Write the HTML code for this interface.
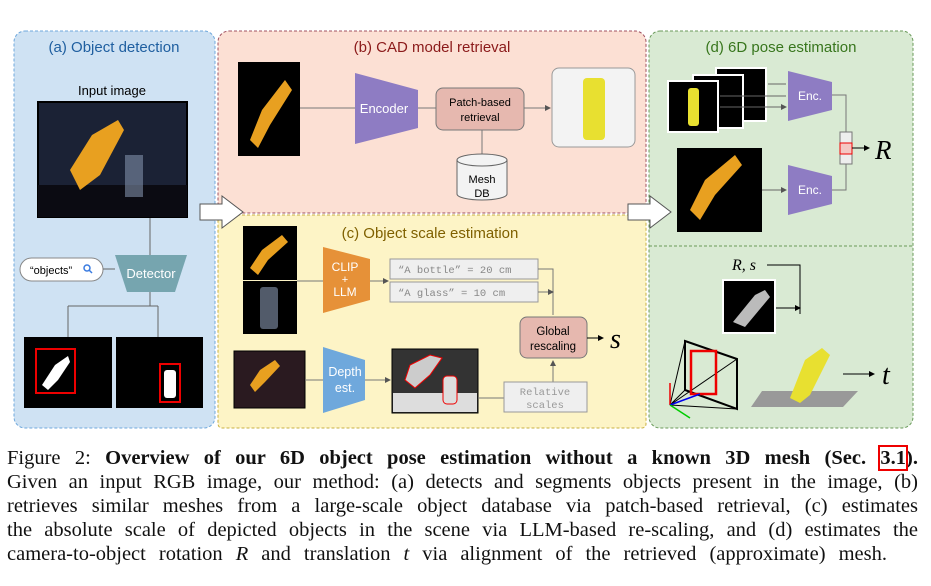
<!DOCTYPE html>
<html><head><meta charset="utf-8"><style>
body{margin:0;width:931px;height:586px;background:#fff;overflow:hidden;position:relative;font-family:"Liberation Sans",sans-serif}
svg{position:absolute;left:0;top:0}
.cap{position:absolute;left:7px;width:911px;font-family:"Liberation Serif",serif;font-size:20.5px;line-height:24px;text-align:justify;text-align-last:justify;white-space:nowrap;color:#111}
.cap i{font-style:italic}
</style></head><body>
<svg width="931" height="440" viewBox="0 0 931 440" font-family="Liberation Sans, sans-serif">
<defs><marker id="ah" markerWidth="6" markerHeight="6" refX="5" refY="3" orient="auto"><path d="M0,0 L6,3 L0,6z" fill="#555"/></marker>
<marker id="ak" markerWidth="6" markerHeight="6" refX="5" refY="3" orient="auto"><path d="M0,0 L6,3 L0,6z" fill="#000"/></marker></defs>
<rect x="14" y="31" width="201" height="397" rx="11" fill="#cfe2f3" stroke="#6fa8dc" stroke-dasharray="3,2"/>
<rect x="218" y="31" width="428" height="182" rx="11" fill="#fce0d4" stroke="#a05060" stroke-dasharray="3,2"/>
<rect x="218" y="215" width="428" height="213" rx="4" fill="#fdf4c6" stroke="#c9b040" stroke-dasharray="3,2"/>
<rect x="649" y="31" width="264" height="397" rx="11" fill="#d9ead3" stroke="#6a9a5a" stroke-dasharray="3,2"/>
<line x1="649" y1="246" x2="913" y2="246" stroke="#6a9a5a" stroke-dasharray="3,2"/>
<text x="114" y="52" text-anchor="middle" font-size="15" fill="#1f5fa0">(a) Object detection</text>
<text x="432" y="52" text-anchor="middle" font-size="15" fill="#8b1a1a">(b) CAD model retrieval</text>
<text x="430" y="238" text-anchor="middle" font-size="15" fill="#7f6000">(c) Object scale estimation</text>
<text x="781" y="52" text-anchor="middle" font-size="15" fill="#38761d">(d) 6D pose estimation</text>
<text x="112" y="95" text-anchor="middle" font-size="13" fill="#000">Input image</text>
<rect x="38" y="102" width="149" height="115" fill="#1b2235" stroke="#000" stroke-width="2"/>
<rect x="38" y="185" width="149" height="32" fill="#0b0b12"/>
<path d="M70,170 L92,135 L118,120 L124,130 L100,175 L80,190z" fill="#e8a020"/>
<rect x="125" y="155" width="18" height="42" fill="#8090a8" opacity=".6"/>
<line x1="150" y1="218" x2="150" y2="255" stroke="#666"/>
<path d="M115,255 L187,255 L175,292 L127,292z" fill="#76a5af"/>
<text x="151" y="278" text-anchor="middle" font-size="13" fill="#fff">Detector</text>
<rect x="20" y="258" width="83" height="23" rx="11.5" fill="#fff" stroke="#888"/>
<text x="30" y="274" font-size="11" fill="#000">“objects”</text>
<circle cx="87" cy="268" r="3" fill="none" stroke="#3a7be0" stroke-width="1.5"/><line x1="89" y1="270" x2="92" y2="273" stroke="#3a7be0" stroke-width="1.5"/>
<line x1="103" y1="269" x2="115" y2="269" stroke="#666"/>
<path d="M150,292 V306 M68,306 H158 M68,306 V337 M158,306 V337" stroke="#666" fill="none"/>
<rect x="24" y="337" width="88" height="71" fill="#000"/>
<rect x="116" y="337" width="87" height="71" fill="#000"/>
<rect x="36" y="349" width="39" height="44" fill="none" stroke="#e00" stroke-width="2"/>
<path d="M42,385 L55,365 L68,356 L70,362 L58,380 L48,390z" fill="#fff"/>
<rect x="160" y="364" width="20" height="38" fill="none" stroke="#e00" stroke-width="2"/>
<rect x="164" y="370" width="12" height="28" rx="3" fill="#fff"/>
<path d="M200,204 H222 V196 L243,212 L222,228 V220 H200z" fill="#fff" stroke="#555"/>
<path d="M628,204 H650 V196 L671,212 L650,228 V220 H628z" fill="#fff" stroke="#555"/>
<rect x="238" y="62" width="62" height="94" fill="#000"/>
<path d="M250,140 L262,110 L285,80 L292,90 L270,125 L258,148z" fill="#e8a020"/>
<line x1="300" y1="108" x2="355" y2="108" stroke="#777"/>
<path d="M355,73 L418,90 L418,128 L355,144z" fill="#8e7cc3"/>
<text x="384" y="113" text-anchor="middle" font-size="13" fill="#fff">Encoder</text>
<line x1="418" y1="108" x2="436" y2="108" stroke="#777"/>
<rect x="436" y="88" width="88" height="42" rx="7" fill="#e6b8af" stroke="#777"/>
<text x="480" y="106" text-anchor="middle" font-size="11" fill="#000">Patch-based</text>
<text x="480" y="121" text-anchor="middle" font-size="11" fill="#000">retrieval</text>
<line x1="524" y1="108" x2="550" y2="108" stroke="#777" marker-end="url(#ah)"/>
<rect x="552" y="68" width="83" height="79" rx="7" fill="#f3f3f3" stroke="#999"/>
<rect x="583" y="78" width="22" height="62" rx="4" fill="#e8e030"/>
<line x1="482" y1="130" x2="482" y2="158" stroke="#777"/>
<path d="M457,160 V194 A25,6 0 0 0 507,194 V160" fill="#f3f3f3" stroke="#666"/>
<ellipse cx="482" cy="160" rx="25" ry="6" fill="#f3f3f3" stroke="#666"/>
<text x="482" y="183" text-anchor="middle" font-size="11" fill="#000">Mesh</text>
<text x="482" y="197" text-anchor="middle" font-size="11" fill="#000">DB</text>
<rect x="243" y="226" width="54" height="54" fill="#000"/>
<path d="M250,268 L262,250 L282,235 L288,242 L268,260 L258,275z" fill="#e8a020"/>
<rect x="243" y="281" width="54" height="53" fill="#000"/>
<rect x="260" y="287" width="18" height="42" rx="3" fill="#8898b0" opacity=".6"/>
<line x1="297" y1="281" x2="323" y2="281" stroke="#777"/>
<path d="M323,247 L370,259 L370,300 L323,313z" fill="#e69138"/>
<text x="345" y="271" text-anchor="middle" font-size="12" fill="#fff">CLIP</text>
<text x="345" y="283" text-anchor="middle" font-size="11" fill="#fff">+</text>
<text x="345" y="296" text-anchor="middle" font-size="12" fill="#fff">LLM</text>
<line x1="370" y1="281" x2="388" y2="281" stroke="#777" marker-end="url(#ah)"/>
<rect x="390" y="259" width="148" height="20" fill="#efefef" stroke="#999"/>
<rect x="390" y="282" width="148" height="20" fill="#efefef" stroke="#999"/>
<text x="398" y="273" font-family="Liberation Mono, monospace" font-size="10.5" fill="#888">“A bottle” = 20 cm</text>
<text x="398" y="296" font-family="Liberation Mono, monospace" font-size="10.5" fill="#888">“A glass”  = 10 cm</text>
<path d="M538,269 H553 V315 M538,292 H553" stroke="#777" fill="none" marker-end="url(#ah)"/>
<rect x="520" y="317" width="67" height="41" rx="7" fill="#e6b8af" stroke="#777"/>
<text x="553" y="335" text-anchor="middle" font-size="11.5" fill="#000">Global</text>
<text x="553" y="350" text-anchor="middle" font-size="11.5" fill="#000">rescaling</text>
<line x1="587" y1="338" x2="603" y2="338" stroke="#000" marker-end="url(#ak)"/>
<text x="610" y="348" font-family="Liberation Serif, serif" font-style="italic" font-size="28" fill="#000">s</text>
<rect x="234" y="351" width="71" height="57" fill="#2a1a20" stroke="#000"/>
<path d="M250,385 L260,370 L275,360 L280,366 L265,382 L255,392z" fill="#e8a020"/>
<line x1="305" y1="380" x2="323" y2="380" stroke="#777"/>
<path d="M323,347 L365,360 L365,400 L323,413z" fill="#6fa8dc"/>
<text x="345" y="376" text-anchor="middle" font-size="12.5" fill="#fff">Depth</text>
<text x="345" y="392" text-anchor="middle" font-size="12.5" fill="#fff">est.</text>
<line x1="365" y1="380" x2="390" y2="380" stroke="#777" marker-end="url(#ah)"/>
<rect x="392" y="349" width="86" height="64" fill="#333" stroke="#000"/>
<rect x="393" y="393" width="84" height="19" fill="#ddd"/>
<path d="M405,380 L410,365 L430,355 L442,358 L430,375 L415,388z" fill="#ccc" stroke="#e00"/>
<rect x="443" y="376" width="14" height="28" rx="4" fill="#ddd" stroke="#e00"/>
<path d="M478,398 H504 M553,382 V361" stroke="#777" fill="none" marker-end="url(#ah)"/>
<rect x="504" y="382" width="83" height="30" fill="#efefef" stroke="#999"/>
<text x="545" y="395" text-anchor="middle" font-family="Liberation Mono, monospace" font-size="10.5" fill="#999">Relative</text>
<text x="545" y="408" text-anchor="middle" font-family="Liberation Mono, monospace" font-size="10.5" fill="#999">scales</text>
<rect x="716" y="68" width="50" height="53" fill="#000" stroke="#fff" stroke-width="2"/>
<rect x="693" y="75" width="50" height="53" fill="#000" stroke="#fff" stroke-width="2"/>
<rect x="668" y="81" width="50" height="51" fill="#000" stroke="#fff" stroke-width="2"/>
<rect x="688" y="88" width="11" height="38" rx="3" fill="#e8e030"/>
<path d="M768,84 H786 M720,96 H786 M720,107 H786" stroke="#666" marker-end="url(#ah)"/>
<path d="M788,71 L832,82 L832,110 L788,121z" fill="#8e7cc3"/>
<text x="810" y="100" text-anchor="middle" font-size="12" fill="#fff">Enc.</text>
<path d="M832,95 H846 V132 M832,190 H846 V164" stroke="#777" fill="none"/>
<rect x="840" y="132" width="12" height="32" fill="#eee" stroke="#777"/>
<rect x="840" y="143" width="12" height="11" fill="#f4c7c3" stroke="#e00"/>
<line x1="852" y1="148" x2="869" y2="148" stroke="#000" marker-end="url(#ak)"/>
<text x="875" y="159" font-family="Liberation Serif, serif" font-style="italic" font-size="27" fill="#000">R</text>
<rect x="677" y="148" width="85" height="84" fill="#000"/>
<path d="M690,210 L705,180 L735,155 L742,165 L715,195 L700,220z" fill="#e8a020"/>
<line x1="762" y1="190" x2="786" y2="190" stroke="#666" marker-end="url(#ah)"/>
<path d="M788,165 L832,176 L832,204 L788,215z" fill="#8e7cc3"/>
<text x="810" y="194" text-anchor="middle" font-size="12" fill="#fff">Enc.</text>
<text x="732" y="270" font-family="Liberation Serif, serif" font-style="italic" font-size="16" fill="#000">R, s</text>
<path d="M767,265 H800 V314 M775,308 H800" stroke="#000" fill="none" marker-end="url(#ak)"/>
<rect x="723" y="280" width="52" height="53" fill="#000" stroke="#fff" stroke-width="2"/>
<path d="M733,322 L755,295 L765,290 L770,297 L745,327z" fill="#bbb"/>
<path d="M762,391 L858,391 L843,407 L751,407z" fill="#999"/>
<path d="M790,398 L805,360 L822,348 L830,355 L810,395 L800,403z" fill="#e8e030"/>
<line x1="843" y1="374" x2="874" y2="374" stroke="#000" marker-end="url(#ak)"/>
<text x="882" y="384" font-family="Liberation Serif, serif" font-style="italic" font-size="28" fill="#000">t</text>
<path d="M685,341 L737,359 L737,409 L685,390z" fill="none" stroke="#000" stroke-width="2"/>
<path d="M670,405 L685,341 M670,405 L737,359 M670,405 L685,390 M670,405 L737,409" stroke="#000" fill="none"/>
<rect x="691" y="351" width="25" height="43" fill="none" stroke="#e00" stroke-width="2.5"/>
<line x1="670" y1="405" x2="670" y2="383" stroke="#e00" stroke-width="1.5"/>
<line x1="670" y1="405" x2="700" y2="394" stroke="#00e" stroke-width="1.5"/>
<line x1="670" y1="405" x2="690" y2="418" stroke="#0c0" stroke-width="1.5"/>
</svg>
<div class="cap" style="top:446px">Figure 2: <b>Overview of our 6D object pose estimation without a known 3D mesh (Sec. <span style="outline:2px solid #e00">3.1</span>).</b></div>
<div class="cap" style="top:470px">Given an input RGB image, our method: (a) detects and segments objects present in the image, (b)</div>
<div class="cap" style="top:494px">retrieves similar meshes from a large-scale object database via patch-based retrieval, (c) estimates</div>
<div class="cap" style="top:518px">the absolute scale of depicted objects in the scene via LLM-based re-scaling, and (d) estimates the</div>
<div class="cap" style="top:542px;width:880px">camera-to-object rotation <i>R</i> and translation <i>t</i> via alignment of the retrieved (approximate) mesh.</div>
</body></html>
